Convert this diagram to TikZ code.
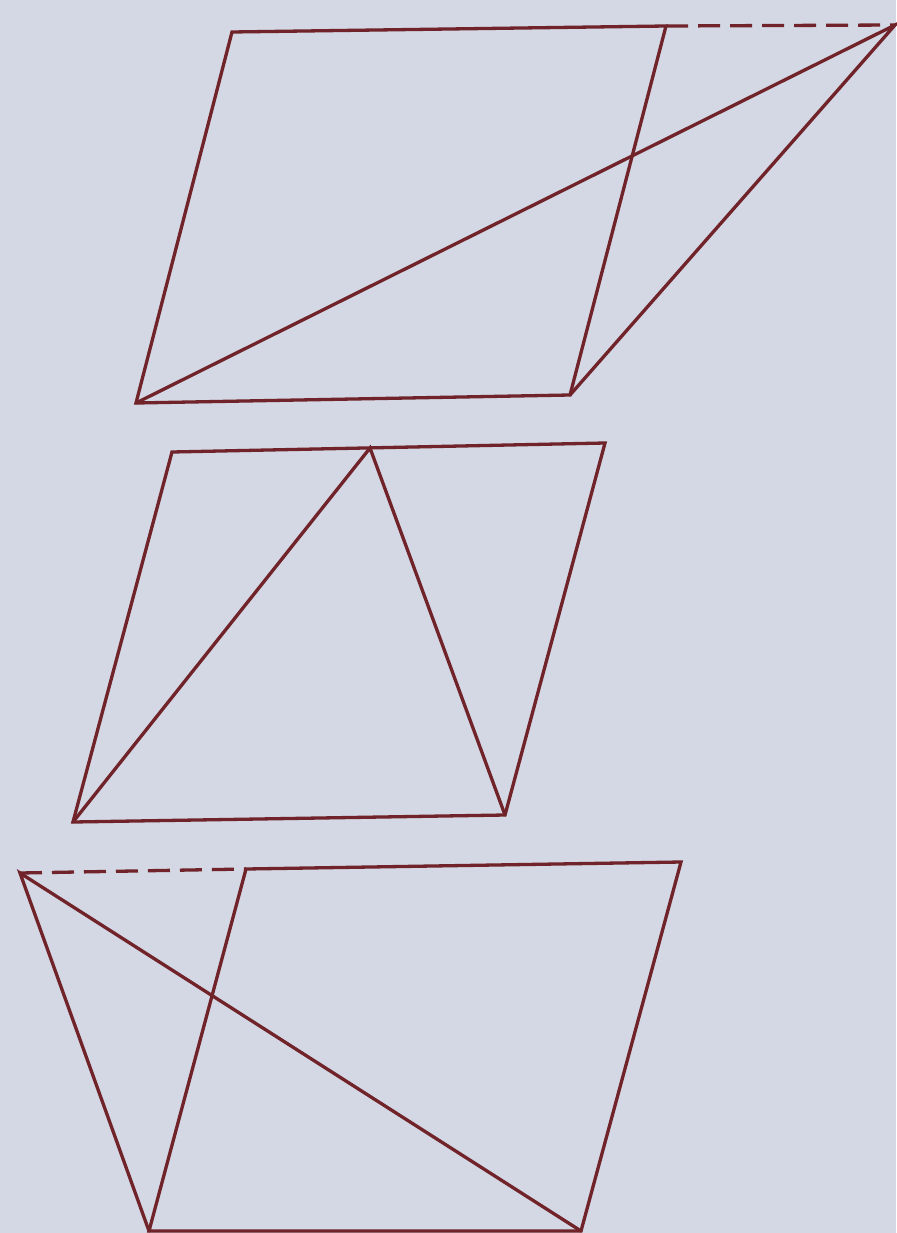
\documentclass[tikz,border=0pt]{standalone}
\definecolor{bgc}{RGB}{212,215,228}
\definecolor{ink}{RGB}{112,36,42}
\begin{document}
\begin{tikzpicture}[x=1pt,y=-1pt,
  edge/.style={draw=ink,line width=3.3pt,line join=miter,line cap=round},
  dashedge/.style={draw=ink,line width=3.3pt,dash pattern=on 22pt off 10pt}]
\fill[bgc] (0,0) rectangle (896,1233);
\useasboundingbox (0,0) rectangle (896,1233);
% Figure 1
\coordinate (A1) at (232,32);
\coordinate (B1) at (666,26);
\coordinate (C1) at (570,395);
\coordinate (D1) at (136,403);
\coordinate (E1) at (895,25);
\draw[edge] (A1) -- (B1) -- (C1) -- (D1) -- cycle;
\draw[dashedge] (B1) -- (E1);
\draw[edge] (D1) -- (E1) -- (C1);
% Figure 2
\coordinate (A2) at (172,452);
\coordinate (P2) at (370,448);
\coordinate (B2) at (605,443);
\coordinate (C2) at (505,815);
\coordinate (D2) at (73,822);
\draw[edge] (A2) -- (B2) -- (C2) -- (D2) -- cycle;
\draw[edge] (D2) -- (P2) -- (C2);
% Figure 3
\coordinate (A3) at (246,869);
\coordinate (B3) at (681,862);
\coordinate (C3) at (581,1231);
\coordinate (D3) at (149,1231);
\coordinate (E3) at (20,873);
\draw[edge] (A3) -- (B3) -- (C3) -- (D3) -- cycle;
\draw[dashedge] (E3) -- (A3);
\draw[edge] (D3) -- (E3) -- (C3);
\end{tikzpicture}
\end{document}
